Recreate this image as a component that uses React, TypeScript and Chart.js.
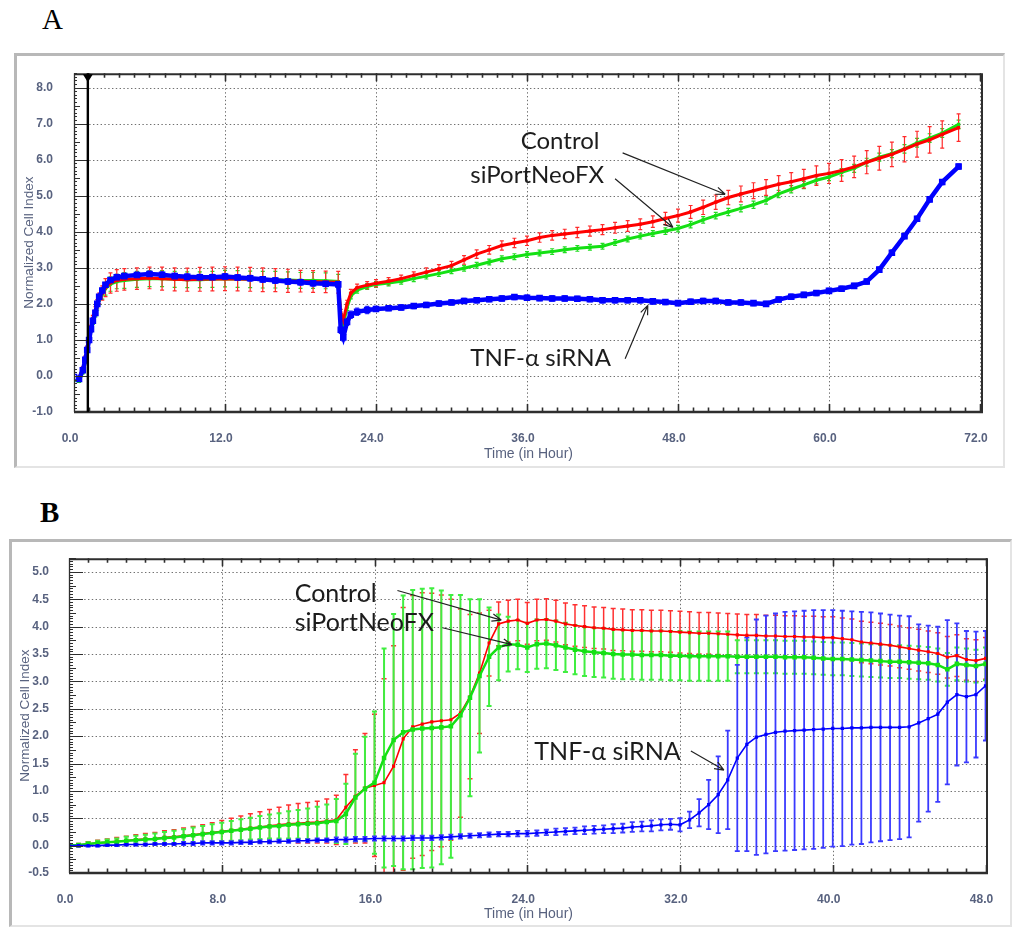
import React, { useEffect, useRef } from "react";
import { Chart, registerables } from "chart.js";

Chart.register(...registerables);

// ================= Panel A data =================
const timeA = [0, 0.4, 0.7, 0.9, 1.05, 1.2, 1.35, 1.5, 1.7, 1.85, 2.0, 2.25, 2.5, 2.9,
  3.4, 4, 5, 6, 7, 8, 9, 10, 11, 12, 13, 14, 15, 16, 17, 18, 19, 20, 21,
  21.2, 21.4, 21.7, 22, 22.5, 23.3,
  24, 25, 26, 27, 28, 29, 30, 31, 32, 33, 34, 35, 36, 37, 38, 39, 40, 41, 42, 43, 44, 45, 46,
  47, 48, 49, 50, 51, 52, 53, 54, 55, 56, 57, 58, 59, 60, 61, 62, 63, 64, 65, 66, 67, 68, 69,
  70.3];

const controlA = [-0.02, -0.05, 0.2, 0.5, 0.78, 1.05, 1.35, 1.6, 1.82, 2.0, 2.15, 2.3, 2.45, 2.58,
  2.65, 2.68, 2.7, 2.72, 2.7, 2.68, 2.67, 2.68, 2.69, 2.7, 2.69, 2.68, 2.67, 2.66, 2.64, 2.63, 2.62, 2.61, 2.6,
  1.75, 1.55, 2.0, 2.3, 2.45, 2.52,
  2.57, 2.63, 2.7, 2.79, 2.88, 2.97, 3.06, 3.22, 3.38, 3.5, 3.62, 3.69, 3.75, 3.84, 3.9, 3.94, 3.98, 4.02, 4.06, 4.11, 4.16, 4.21, 4.28,
  4.37, 4.45, 4.55, 4.68, 4.82, 4.95, 5.05, 5.14, 5.23, 5.32, 5.39, 5.47, 5.56, 5.62, 5.7, 5.8, 5.93, 6.04, 6.15, 6.29, 6.43, 6.55, 6.7,
  6.89];

const siPortA = [-0.1, -0.15, 0.1, 0.4, 0.7, 0.98, 1.28, 1.5, 1.72, 1.93, 2.1, 2.28, 2.42, 2.55,
  2.62, 2.65, 2.68, 2.7, 2.7, 2.68, 2.67, 2.67, 2.68, 2.7, 2.69, 2.68, 2.67, 2.67, 2.66, 2.65, 2.65, 2.64, 2.62,
  1.65, 1.42, 1.9, 2.22, 2.38, 2.48,
  2.54, 2.58, 2.63, 2.7, 2.77, 2.84, 2.92, 2.99, 3.07, 3.16, 3.25, 3.31, 3.37, 3.41, 3.45, 3.5, 3.54, 3.57, 3.6, 3.7, 3.8, 3.88, 3.95,
  4.02, 4.09, 4.2, 4.33, 4.45, 4.55, 4.65, 4.75, 4.87, 5.05, 5.18, 5.3, 5.43, 5.52, 5.65, 5.76, 5.93, 6.07, 6.17, 6.3, 6.47, 6.6, 6.74,
  6.98];

const tnfA = [-0.03, -0.08, 0.16, 0.45, 0.72, 1.0, 1.3, 1.53, 1.75, 2.0, 2.2, 2.37, 2.53, 2.66,
  2.74, 2.77, 2.8, 2.83, 2.81, 2.77, 2.75, 2.74, 2.74, 2.76, 2.73, 2.71, 2.68, 2.65, 2.62, 2.6, 2.57, 2.56, 2.54,
  1.28, 1.07, 1.5, 1.7, 1.78, 1.83,
  1.86, 1.88, 1.9, 1.94, 1.97, 2.01, 2.04, 2.08, 2.1, 2.13, 2.15, 2.19, 2.17, 2.16, 2.15, 2.15, 2.14, 2.13, 2.1, 2.1, 2.1, 2.1, 2.07,
  2.05, 2.02, 2.06, 2.08, 2.08, 2.04, 2.04, 2.02, 2.0, 2.12, 2.2, 2.25, 2.3, 2.36, 2.42, 2.5, 2.62, 2.95, 3.42, 3.88, 4.36, 4.9, 5.38,
  5.81];

const controlErrA = [0.03, 0.03, 0.05, 0.05, 0.05, 0.06, 0.06, 0.08, 0.1, 0.12, 0.15, 0.2, 0.25, 0.28,
  0.3, 0.3, 0.3, 0.3, 0.32, 0.32, 0.32, 0.33, 0.33, 0.33, 0.33, 0.33, 0.33, 0.32, 0.32, 0.3, 0.3, 0.3, 0.3,
  0.1, 0.1, 0.1, 0.1, 0.1, 0.1,
  0.1, 0.1, 0.1, 0.1, 0.12, 0.12, 0.12, 0.12, 0.12, 0.12, 0.13, 0.13, 0.13, 0.13, 0.13, 0.13, 0.14, 0.14, 0.14, 0.15, 0.15, 0.15, 0.16,
  0.17, 0.18, 0.18, 0.2, 0.2, 0.2, 0.22, 0.22, 0.22, 0.24, 0.25, 0.26, 0.27, 0.28, 0.3, 0.3, 0.32, 0.33, 0.34, 0.35, 0.36, 0.37, 0.38,
  0.38];

const siPortErrA = [0.03, 0.03, 0.04, 0.04, 0.05, 0.05, 0.06, 0.07, 0.08, 0.1, 0.12, 0.15, 0.18, 0.2,
  0.2, 0.22, 0.22, 0.22, 0.22, 0.22, 0.22, 0.22, 0.22, 0.23, 0.23, 0.23, 0.23, 0.23, 0.23, 0.22, 0.22, 0.22, 0.2,
  0.08, 0.08, 0.08, 0.08, 0.08, 0.08,
  0.08, 0.08, 0.08, 0.08, 0.08, 0.08, 0.08, 0.08, 0.08, 0.08, 0.08, 0.08, 0.08, 0.08, 0.08, 0.08, 0.08, 0.08, 0.08, 0.08, 0.08, 0.08, 0.08,
  0.09, 0.09, 0.09, 0.09, 0.09, 0.1, 0.1, 0.1, 0.1, 0.1, 0.1, 0.1, 0.1, 0.1, 0.1, 0.11, 0.11, 0.11, 0.11, 0.12, 0.12, 0.12, 0.12,
  0.12];

const tnfErrA = [0.03, 0.03, 0.03, 0.03, 0.03, 0.03, 0.03, 0.03, 0.03, 0.03, 0.03, 0.03, 0.03, 0.03,
  0.08, 0.08, 0.08, 0.08, 0.08, 0.08, 0.08, 0.08, 0.08, 0.08, 0.08, 0.08, 0.08, 0.08, 0.08, 0.08, 0.08, 0.08, 0.08,
  0.1, 0.1, 0.1, 0.1, 0.1, 0.1,
  0.07, 0.07, 0.07, 0.07, 0.07, 0.07, 0.07, 0.07, 0.07, 0.07, 0.07, 0.07, 0.07, 0.07, 0.07, 0.07, 0.07, 0.07, 0.07, 0.07, 0.07, 0.07, 0.07,
  0.07, 0.07, 0.07, 0.07, 0.07, 0.07, 0.07, 0.07, 0.07, 0.07, 0.07, 0.07, 0.07, 0.07, 0.07, 0.07, 0.07, 0.07, 0.07, 0.07, 0.07, 0.07, 0.07,
  0.07];

const xTicksA = [0, 12, 24, 36, 48, 60, 72];
const yTicksA = [-1, 0, 1, 2, 3, 4, 5, 6, 7, 8];
const markerTimeA = 1.1;

// ================= Panel B data =================
const timeB = [0, 0.5, 1, 1.5, 2, 2.5, 3, 3.5, 4, 4.5, 5, 5.5,
  6, 6.5, 7, 7.5, 8, 8.5, 9, 9.5, 10, 10.5, 11, 11.5, 12, 12.5, 13, 13.5,
  14, 14.5, 15, 15.5, 16, 16.5, 17, 17.5, 18, 18.5, 19, 19.5, 20, 20.5, 21, 21.5, 22, 22.5, 23,
  23.5, 24, 24.5, 25, 25.5, 26, 26.5, 27, 27.5, 28, 28.5, 29, 29.5, 30, 30.5, 31, 31.5, 32, 32.5, 33, 33.5, 34, 34.5,
  35, 35.5, 36, 36.5, 37, 37.5, 38, 38.5, 39, 39.5, 40, 40.5, 41, 41.5, 42, 42.5, 43, 43.5, 44, 44.5, 45, 45.5, 46, 46.5, 47, 47.5, 48];

const controlB = [0.0, 0.01, 0.03, 0.05, 0.06, 0.08, 0.09, 0.11, 0.12, 0.13, 0.15, 0.16,
  0.18, 0.2, 0.22, 0.24, 0.26, 0.28, 0.3, 0.32, 0.34, 0.36, 0.38, 0.4, 0.41, 0.42, 0.43, 0.45,
  0.47, 0.7, 0.9, 1.05, 1.1, 1.15, 1.45, 1.95, 2.17, 2.22, 2.26, 2.28, 2.3, 2.42, 2.72, 3.15, 3.7, 4.05, 4.1,
  4.12, 4.06, 4.12, 4.13, 4.1, 4.05, 4.02, 4.0, 3.98, 3.97, 3.95, 3.94, 3.93, 3.93, 3.92, 3.92, 3.91, 3.9, 3.89, 3.88, 3.88, 3.87, 3.86,
  3.85, 3.84, 3.84, 3.83, 3.83, 3.82, 3.82, 3.81, 3.81, 3.8, 3.8, 3.78, 3.76, 3.72, 3.7, 3.68, 3.66, 3.63, 3.6, 3.57, 3.54, 3.51, 3.44, 3.47, 3.4, 3.38, 3.42];

const siPortB = [0.0, 0.01, 0.03, 0.05, 0.06, 0.07, 0.09, 0.1, 0.11, 0.12, 0.14, 0.15,
  0.17, 0.19, 0.21, 0.23, 0.25, 0.27, 0.29, 0.31, 0.33, 0.35, 0.36, 0.38, 0.39, 0.4, 0.41, 0.43,
  0.45, 0.58, 0.88, 1.04, 1.15, 1.6, 1.93, 2.07, 2.12, 2.14, 2.15, 2.16, 2.18, 2.38, 2.7, 3.1, 3.45, 3.62, 3.68,
  3.67, 3.62, 3.68, 3.69, 3.66, 3.62, 3.58, 3.55, 3.53, 3.52, 3.5, 3.49, 3.49, 3.48, 3.48, 3.48, 3.47, 3.47, 3.46, 3.46, 3.46, 3.46, 3.46,
  3.45, 3.45, 3.45, 3.45, 3.45, 3.44, 3.44, 3.44, 3.43, 3.42, 3.41, 3.41, 3.4, 3.39, 3.38, 3.37, 3.36, 3.36, 3.35, 3.34, 3.33, 3.3, 3.22, 3.32, 3.3, 3.28, 3.32];

const tnfB = [0, 0, 0, 0, 0.01, 0.01, 0.02, 0.02, 0.02, 0.03, 0.03, 0.03,
  0.04, 0.04, 0.05, 0.05, 0.05, 0.05, 0.06, 0.06, 0.07, 0.07, 0.08, 0.08, 0.09, 0.09, 0.1, 0.1,
  0.11, 0.11, 0.12, 0.12, 0.13, 0.13, 0.13, 0.13, 0.14, 0.14, 0.14, 0.15, 0.16, 0.17, 0.18, 0.19, 0.2, 0.21, 0.21,
  0.22, 0.22, 0.23, 0.24, 0.25, 0.26, 0.27, 0.28, 0.29, 0.3, 0.31, 0.32, 0.34, 0.35, 0.36, 0.38, 0.39, 0.38, 0.47, 0.6, 0.75, 0.93, 1.2,
  1.6, 1.85, 1.98, 2.03, 2.07, 2.09, 2.1, 2.11, 2.12, 2.13, 2.14, 2.14, 2.15, 2.15, 2.16, 2.16, 2.16, 2.16, 2.17, 2.24, 2.32, 2.4, 2.62, 2.76, 2.72, 2.76, 2.92];

const controlErrB = [0.02, 0.03, 0.04, 0.05, 0.06, 0.07, 0.08, 0.09, 0.1, 0.11, 0.12, 0.13,
  0.14, 0.15, 0.16, 0.18, 0.2, 0.22, 0.24, 0.26, 0.28, 0.3, 0.32, 0.34, 0.36, 0.37, 0.38, 0.4,
  0.45, 0.6, 0.85, 1.0, 1.3, 1.9, 2.2, 2.4, 2.4, 2.4, 2.35, 2.3, 2.2, 1.9, 1.5, 1.1, 0.6, 0.4, 0.38,
  0.38, 0.38, 0.38, 0.38, 0.38, 0.38, 0.38, 0.38, 0.38, 0.38, 0.38, 0.38, 0.38, 0.38, 0.38, 0.38, 0.38, 0.38, 0.38, 0.38, 0.38, 0.38, 0.38,
  0.38, 0.38, 0.38, 0.38, 0.38, 0.38, 0.38, 0.38, 0.38, 0.38, 0.38, 0.38, 0.38, 0.38, 0.38, 0.38, 0.38, 0.38, 0.38, 0.38, 0.38, 0.38, 0.38, 0.38, 0.38, 0.38, 0.38];

const siPortErrB = [0.02, 0.02, 0.03, 0.04, 0.05, 0.06, 0.07, 0.08, 0.09, 0.1, 0.11, 0.12,
  0.13, 0.14, 0.15, 0.16, 0.17, 0.18, 0.19, 0.2, 0.21, 0.22, 0.23, 0.25, 0.26, 0.28, 0.3, 0.32,
  0.4, 0.55, 0.8, 0.95, 1.3, 2.0, 2.3, 2.5, 2.55, 2.55, 2.55, 2.5, 2.4, 2.2, 1.8, 1.4, 0.9, 0.6, 0.5,
  0.45, 0.45, 0.45, 0.45, 0.45, 0.45, 0.45, 0.45, 0.45, 0.45, 0.45, 0.45, 0.45, 0.45, 0.45, 0.45, 0.45, 0.45, 0.45, 0.45, 0.45, 0.45, 0.45,
  0.3, 0.3, 0.3, 0.3, 0.3, 0.3, 0.3, 0.3, 0.3, 0.3, 0.3, 0.3, 0.3, 0.3, 0.3, 0.3, 0.3, 0.3, 0.3, 0.3, 0.3, 0.3, 0.3, 0.3, 0.3, 0.3, 0.3];

const tnfErrB = [0.02, 0.02, 0.02, 0.02, 0.02, 0.02, 0.02, 0.02, 0.02, 0.02, 0.02, 0.02,
  0.03, 0.03, 0.03, 0.03, 0.03, 0.03, 0.03, 0.03, 0.03, 0.03, 0.03, 0.03, 0.03, 0.03, 0.03, 0.03,
  0.04, 0.04, 0.04, 0.04, 0.04, 0.04, 0.04, 0.04, 0.04, 0.04, 0.04, 0.04, 0.04, 0.04, 0.04, 0.04, 0.04, 0.04, 0.04,
  0.05, 0.05, 0.05, 0.05, 0.06, 0.06, 0.06, 0.07, 0.07, 0.07, 0.08, 0.08, 0.09, 0.09, 0.1, 0.1, 0.1, 0.12, 0.15, 0.25, 0.45, 0.7, 0.9,
  1.7, 1.95, 2.15, 2.17, 2.17, 2.18, 2.18, 2.18, 2.18, 2.17, 2.16, 2.15, 2.13, 2.12, 2.1, 2.08, 2.06, 2.04, 2.02, 1.8, 1.7, 1.6, 1.5, 1.3, 1.2, 1.15, 1.0];

const xTicksB = [0, 8, 16, 24, 32, 40, 48];
const yTicksB = [-0.5, 0, 0.5, 1, 1.5, 2, 2.5, 3, 3.5, 4, 4.5, 5];

// annotation labels (data units)
const notesA = [
  { text: "Control", t: 35.5, v: 6.52 },
  { text: "siPortNeoFX", t: 31.5, v: 5.57 },
  { text: "TNF-\u03B1 siRNA", t: 31.5, v: 0.48 },
];
const arrowsA = [
  { t0: 43.6, v0: 6.19, t1: 51.75, v1: 5.04 },
  { t0: 43.0, v0: 5.47, t1: 47.6, v1: 4.12 },
  { t0: 43.8, v0: 0.48, t1: 45.6, v1: 1.96 },
];
const notesB = [
  { text: "Control", t: 11.82, v: 4.59 },
  { text: "siPortNeoFX", t: 11.82, v: 4.06 },
  { text: "TNF-\u03B1 siRNA", t: 24.37, v: 1.71 },
];
const arrowsB = [
  { t0: 17.2, v0: 4.66, t1: 22.64, v1: 4.12 },
  { t0: 19.56, v0: 3.98, t1: 23.2, v1: 3.67 },
  { t0: 32.57, v0: 1.73, t1: 34.3, v1: 1.38 },
];

// ================= styling =================
const RED = "#ff0000";
const GREEN = "#14e014";
const BLUE = "#0000ff";
const LABEL_COLOR = "#58627f";
const SANS = '"Liberation Sans", Arial, sans-serif';

interface Series {
  label: string;
  values: number[];
  errors: number[];
  color: string;
  errColor: string;
  errWidth: number;
  lineWidth: number;
  pointRadius: number;
  hollowFirst?: boolean;
}

interface PanelCfg {
  times: number[];
  series: Series[]; // index 0 drawn on top
  errOrder: number[];
  xMin: number; xMax: number; yMin: number; yMax: number;
  xTicks: number[]; yTicks: number[];
  xMinorStep: number; xMinorPerMajor: number;
  yMinorStep: number; yMinorPerMajor: number;
  leftMajorLen: number; leftMidLen: number; leftMinorLen: number;
  capHalf: number;
  marker?: number;
  notes: { text: string; t: number; v: number }[];
  arrows: { t0: number; v0: number; t1: number; v1: number }[];
  noteFont: string;
  yAxisWidth: number; xAxisHeight: number; padTop: number; padRight: number;
  yTickPad: number; xTickPad: number; yTitlePad: number; xTitlePad: number;
}

function decorPlugin(p: PanelCfg) {
  return {
    id: "decor",
    beforeDatasetsDraw(chart: any) {
      const { ctx, chartArea: a, scales } = chart;
      const xs = scales.x, ys = scales.y;
      ctx.save();
      // dotted grid
      ctx.strokeStyle = "#707070";
      ctx.lineWidth = 1;
      ctx.setLineDash([1.4, 2.4]);
      ctx.beginPath();
      p.xTicks.forEach((v) => {
        const px = Math.round(xs.getPixelForValue(v)) + 0.5;
        if (px > a.left + 2 && px < a.right - 1) { ctx.moveTo(px, a.top); ctx.lineTo(px, a.bottom); }
      });
      p.yTicks.forEach((v) => {
        const py = Math.round(ys.getPixelForValue(v)) + 0.5;
        if (py > a.top + 2 && py < a.bottom - 2) { ctx.moveTo(a.left, py); ctx.lineTo(a.right, py); }
      });
      ctx.stroke();
      ctx.setLineDash([]);
      // error bars
      ctx.beginPath();
      ctx.rect(a.left, a.top, a.right - a.left, a.bottom - a.top);
      ctx.clip();
      p.errOrder.forEach((si) => {
        const s = p.series[si];
        ctx.strokeStyle = s.errColor;
        ctx.lineWidth = s.errWidth;
        ctx.beginPath();
        p.times.forEach((t, j) => {
          const e = s.errors[j];
          if (!e) return;
          const px = xs.getPixelForValue(t);
          const y1 = ys.getPixelForValue(s.values[j] + e);
          const y2 = ys.getPixelForValue(s.values[j] - e);
          ctx.moveTo(px, y1); ctx.lineTo(px, y2);
          ctx.moveTo(px - p.capHalf, y1); ctx.lineTo(px + p.capHalf, y1);
          ctx.moveTo(px - p.capHalf, y2); ctx.lineTo(px + p.capHalf, y2);
        });
        ctx.stroke();
      });
      ctx.restore();
    },
    afterDatasetsDraw(chart: any) {
      const { ctx, chartArea: a, scales } = chart;
      const xs = scales.x, ys = scales.y;
      ctx.save();
      ctx.strokeStyle = "#2e2e2e";
      // frame lines
      ctx.lineWidth = 2;
      ctx.beginPath();
      ctx.moveTo(a.left, a.top + 1); ctx.lineTo(a.right, a.top + 1);
      ctx.moveTo(a.right - 1, a.top); ctx.lineTo(a.right - 1, a.bottom);
      ctx.stroke();
      ctx.lineWidth = 2.5;
      ctx.beginPath();
      ctx.moveTo(a.left, a.bottom); ctx.lineTo(a.right, a.bottom);
      ctx.stroke();
      ctx.lineWidth = 1.3;
      ctx.beginPath();
      ctx.moveTo(a.left + 0.5, a.top); ctx.lineTo(a.left + 0.5, a.bottom);
      ctx.stroke();
      // x ticks (top & bottom)
      ctx.lineWidth = 1.6;
      ctx.beginPath();
      for (let k = 0; ; k++) {
        const v = p.xMin + k * p.xMinorStep;
        if (v > p.xMax + 1e-6) break;
        const px = Math.round(xs.getPixelForValue(v)) + 0.5;
        const major = k % p.xMinorPerMajor === 0;
        const len = major ? 8 : 4.5;
        if (px > a.left + 3) {
          ctx.moveTo(px, a.bottom); ctx.lineTo(px, a.bottom - len);
          ctx.moveTo(px, a.top); ctx.lineTo(px, a.top + len);
        }
      }
      ctx.stroke();
      // left ruler
      ctx.lineWidth = 1;
      ctx.beginPath();
      for (let k = 0; ; k++) {
        const v = p.yMin + k * p.yMinorStep;
        if (v > p.yMax + 1e-6) break;
        const py = Math.round(ys.getPixelForValue(v)) + 0.5;
        let len = p.leftMinorLen;
        if (k % p.yMinorPerMajor === 0) len = p.leftMajorLen;
        else if (k % (p.yMinorPerMajor / 2) === 0) len = p.leftMidLen;
        ctx.moveTo(a.left, py); ctx.lineTo(a.left + len, py);
      }
      ctx.stroke();
      // marker line
      if (p.marker !== undefined) {
        const px = xs.getPixelForValue(p.marker);
        ctx.fillStyle = "#000";
        ctx.fillRect(px - 1.2, a.top, 2.4, a.bottom - a.top);
        ctx.beginPath();
        ctx.moveTo(px - 5, a.top + 1);
        ctx.lineTo(px + 5, a.top + 1);
        ctx.lineTo(px, a.top + 9);
        ctx.closePath();
        ctx.fill();
      }
      // annotations
      ctx.fillStyle = "#1c1c1c";
      ctx.font = p.noteFont;
      ctx.textAlign = "left";
      ctx.textBaseline = "middle";
      p.notes.forEach((n) => {
        ctx.fillText(n.text, xs.getPixelForValue(n.t), ys.getPixelForValue(n.v));
      });
      ctx.strokeStyle = "#222";
      ctx.lineWidth = 1.2;
      p.arrows.forEach((ar) => {
        const x0 = xs.getPixelForValue(ar.t0), y0 = ys.getPixelForValue(ar.v0);
        const x1 = xs.getPixelForValue(ar.t1), y1 = ys.getPixelForValue(ar.v1);
        const ang = Math.atan2(y1 - y0, x1 - x0);
        ctx.beginPath();
        ctx.moveTo(x0, y0); ctx.lineTo(x1, y1);
        const h = 10, s = 0.38;
        ctx.moveTo(x1, y1); ctx.lineTo(x1 - h * Math.cos(ang - s), y1 - h * Math.sin(ang - s));
        ctx.moveTo(x1, y1); ctx.lineTo(x1 - h * Math.cos(ang + s), y1 - h * Math.sin(ang + s));
        ctx.stroke();
      });
      ctx.restore();
    },
  };
}

function buildConfig(p: PanelCfg): any {
  const datasets = p.series.map((s) => ({
    label: s.label,
    data: p.times.map((t, i) => ({ x: t, y: s.values[i] })),
    borderColor: s.color,
    backgroundColor: s.color,
    pointBackgroundColor: s.hollowFirst
      ? (c: any) => (c.dataIndex === 0 ? "#ffffff" : s.color)
      : s.color,
    pointBorderColor: s.color,
    pointBorderWidth: s.hollowFirst ? 1.2 : 0,
    borderWidth: s.lineWidth,
    pointStyle: "rect",
    pointRadius: s.pointRadius,
    tension: 0,
    fill: false,
  }));
  return {
    type: "line",
    data: { datasets },
    options: {
      animation: false,
      responsive: false,
      events: [],
      layout: { padding: { left: 0, top: p.padTop, right: p.padRight, bottom: 0 } },
      plugins: { legend: { display: false }, tooltip: { enabled: false } },
      scales: {
        x: {
          type: "linear",
          min: p.xMin,
          max: p.xMax,
          afterBuildTicks: (sc: any) => { sc.ticks = p.xTicks.map((v) => ({ value: v })); },
          afterFit: (sc: any) => { sc.height = p.xAxisHeight; },
          grid: { display: false },
          border: { display: false },
          ticks: {
            autoSkip: false, maxRotation: 0, padding: p.xTickPad, color: LABEL_COLOR,
            labelOffset: -4,
            font: { family: SANS, size: 12, weight: "bold" },
            callback: (v: any) => Number(v).toFixed(1),
          },
          title: {
            display: true, text: "Time (in Hour)", color: LABEL_COLOR,
            font: { family: SANS, size: 14 }, padding: { top: 0, bottom: p.xTitlePad },
          },
        },
        y: {
          type: "linear",
          min: p.yMin,
          max: p.yMax,
          afterBuildTicks: (sc: any) => { sc.ticks = p.yTicks.map((v) => ({ value: v })); },
          afterFit: (sc: any) => { sc.width = p.yAxisWidth; },
          grid: { display: false },
          border: { display: false },
          ticks: {
            autoSkip: false, padding: p.yTickPad, color: LABEL_COLOR,
            font: { family: SANS, size: 12, weight: "bold" },
            callback: (v: any) => Number(v).toFixed(1),
          },
          title: {
            display: true, text: "Normalized Cell Index", color: LABEL_COLOR,
            font: { family: SANS, size: 13.5 }, padding: { top: p.yTitlePad, bottom: 0 },
          },
        },
      },
    },
    plugins: [decorPlugin(p)],
  };
}

const panelA: PanelCfg = {
  times: timeA,
  series: [
    { label: "TNF-\u03B1 siRNA", values: tnfA, errors: tnfErrA, color: BLUE, errColor: "#2a2aff", errWidth: 1.2, lineWidth: 4.5, pointRadius: 3.8, hollowFirst: true },
    { label: "Control", values: controlA, errors: controlErrA, color: RED, errColor: "#ff2a2a", errWidth: 1.2, lineWidth: 3, pointRadius: 2.3 },
    { label: "siPortNeoFX", values: siPortA, errors: siPortErrA, color: GREEN, errColor: "#22dd22", errWidth: 1.2, lineWidth: 3, pointRadius: 2.3 },
  ],
  errOrder: [2, 1, 0],
  xMin: 0, xMax: 72.24, yMin: -1, yMax: 8.4,
  xTicks: xTicksA, yTicks: yTicksA,
  xMinorStep: 1.2, xMinorPerMajor: 10,
  yMinorStep: 0.1, yMinorPerMajor: 10,
  leftMajorLen: 14, leftMidLen: 6, leftMinorLen: 3,
  capHalf: 2,
  marker: markerTimeA,
  notes: notesA, arrows: arrowsA,
  noteFont: '24px Lato, "Noto Sans", sans-serif',
  yAxisWidth: 60, xAxisHeight: 56, padTop: 10, padRight: 22,
  yTickPad: 13, xTickPad: 11, yTitlePad: 7, xTitlePad: 5,
};

const panelB: PanelCfg = {
  times: timeB,
  series: [
    { label: "TNF-\u03B1 siRNA", values: tnfB, errors: tnfErrB, color: BLUE, errColor: "#3a3aff", errWidth: 1.8, lineWidth: 1.6, pointRadius: 2.3 },
    { label: "siPortNeoFX", values: siPortB, errors: siPortErrB, color: GREEN, errColor: "#40ee40", errWidth: 2, lineWidth: 2.5, pointRadius: 3.2 },
    { label: "Control", values: controlB, errors: controlErrB, color: RED, errColor: "#ff3030", errWidth: 1.5, lineWidth: 1.6, pointRadius: 2.2 },
  ],
  errOrder: [2, 1, 0],
  xMin: 0, xMax: 48.13, yMin: -0.5, yMax: 5.25,
  xTicks: xTicksB, yTicks: yTicksB,
  xMinorStep: 1, xMinorPerMajor: 8,
  yMinorStep: 0.05, yMinorPerMajor: 10,
  leftMajorLen: 14, leftMidLen: 7, leftMinorLen: 4,
  capHalf: 2.5,
  notes: notesB, arrows: arrowsB,
  noteFont: '25px Lato, "Noto Sans", sans-serif',
  yAxisWidth: 60, xAxisHeight: 54, padTop: 10, padRight: 24,
  yTickPad: 12, xTickPad: 11, yTitlePad: 8, xTitlePad: 4,
};

function PanelChart(props: { cfg: PanelCfg; left: number; top: number; width: number; height: number }) {
  const ref = useRef<HTMLCanvasElement>(null);
  useEffect(() => {
    const chart = new Chart(ref.current as HTMLCanvasElement, buildConfig(props.cfg));
    return () => chart.destroy();
  }, []);
  return (
    <canvas
      ref={ref}
      width={props.width}
      height={props.height}
      style={{ position: "absolute", left: props.left, top: props.top, width: props.width, height: props.height }}
    />
  );
}

function Frame(props: { left: number; top: number; width: number; height: number }) {
  return (
    <div
      style={{
        position: "absolute", left: props.left, top: props.top, width: props.width, height: props.height,
        boxSizing: "border-box", borderTop: "3px solid #b8b8b8", borderLeft: "3px solid #b8b8b8",
        borderRight: "2px solid #e4e4e4", borderBottom: "2px solid #e4e4e4", background: "#fff",
      }}
    />
  );
}

export default function App() {
  return (
    <div style={{ position: "absolute", left: 0, top: 0, width: 1024, height: 937, background: "#fff", overflow: "hidden" }}>
      <div style={{ position: "absolute", left: 42, top: 5, fontSize: 29, lineHeight: "29px", fontFamily: '"Liberation Serif", serif', color: "#000" }}>A</div>
      <Frame left={14} top={53} width={991} height={415} />
      <PanelChart cfg={panelA} left={14} top={53} width={991} height={415} />
      <div style={{ position: "absolute", left: 40, top: 498, fontSize: 29, lineHeight: "29px", fontWeight: "bold", fontFamily: '"Liberation Serif", serif', color: "#000" }}>B</div>
      <Frame left={9} top={539} width={1003} height={388} />
      <PanelChart cfg={panelB} left={9} top={539} width={1003} height={388} />
    </div>
  );
}
